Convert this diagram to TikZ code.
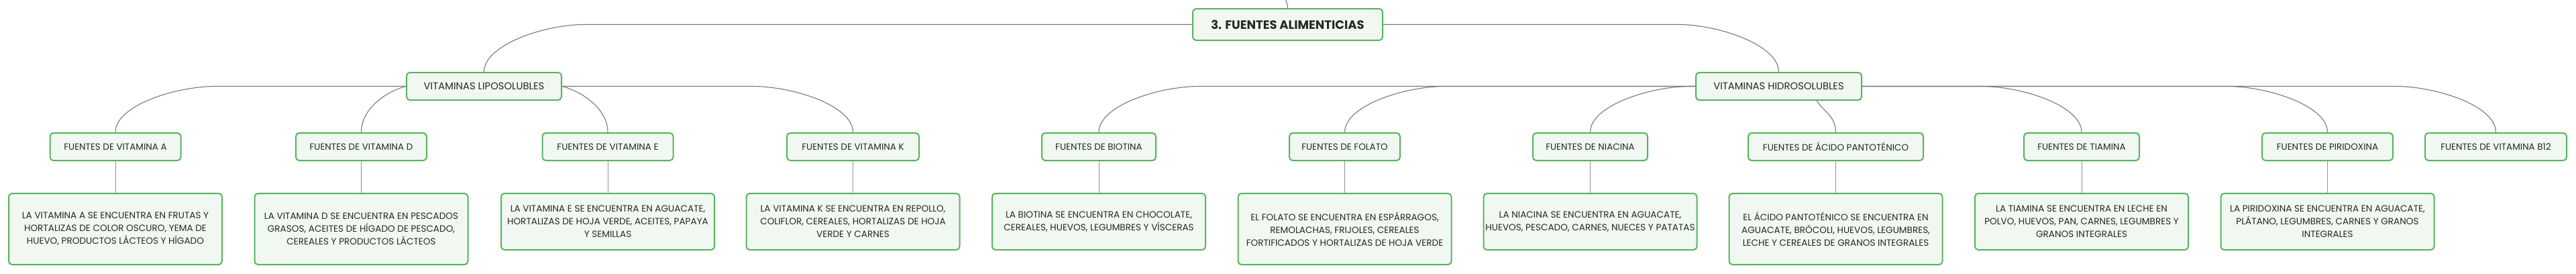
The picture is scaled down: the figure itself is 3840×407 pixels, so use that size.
\documentclass[tikz,border=0pt]{standalone}
\usepackage{fontspec}
\setmainfont{Poppins}
\usetikzlibrary{calc}
\definecolor{ramka}{RGB}{88,180,95}
\definecolor{tlo}{RGB}{241,248,242}
\definecolor{linia}{RGB}{120,120,120}
\definecolor{tekst}{RGB}{40,40,40}

\begin{document}
\begin{tikzpicture}[x=1pt, y=-1pt,
    box/.style={draw=ramka, fill=tlo, line width=2pt, rounded corners=5pt, text=tekst, inner sep=0pt},
    root/.style={box, minimum width=283, minimum height=47, font=\fontsize{18}{20}\selectfont\bfseries},
    group/.style={box, minimum height=41, font=\fontsize{14.8}{16}\selectfont},
    topic/.style={box, minimum height=41, font=\fontsize{13.5}{15}\selectfont},
    info/.style={box, anchor=north, minimum width=318, align=center, font=\fontsize{13.6}{19}\selectfont},
    link/.style={draw=linia, line width=1.1pt},
    stem/.style={draw=linia!80, line width=0.8pt}]
    \useasboundingbox (0,0) rectangle (3840,407);

    % Węzeł główny
    \node[root] (root) at (1919.5,36.5) {3. FUENTES ALIMENTICIAS};
    \coordinate (nadrzedny) at (1880,-30);

    % Grupy witamin
    \node[group, minimum width=231] (lipo) at (721.5,128.5) {VITAMINAS LIPOSOLUBLES};
    \node[group, minimum width=247] (hidro) at (2651.5,128.5) {VITAMINAS HIDROSOLUBLES};

    % Źródła poszczególnych witamin
    \node[topic, minimum width=195] (vita) at (172,218.5) {FUENTES DE VITAMINA A};
    \node[topic, minimum width=195] (vitd) at (538.5,218.5) {FUENTES DE VITAMINA D};
    \node[topic, minimum width=195] (vite) at (906,218.5) {FUENTES DE VITAMINA E};
    \node[topic, minimum width=197] (vitk) at (1271.5,218.5) {FUENTES DE VITAMINA K};
    \node[topic, minimum width=170] (biot) at (1638,218.5) {FUENTES DE BIOTINA};
    \node[topic, minimum width=165] (fola) at (2004.5,218.5) {FUENTES DE FOLATO};
    \node[topic, minimum width=171] (niac) at (2370.5,218.5) {FUENTES DE NIACINA};
    \node[topic, minimum width=261] (pant) at (2736.5,218.5) {FUENTES DE ÁCIDO PANTOTÉNICO};
    \node[topic, minimum width=172] (tiam) at (3103,218.5) {FUENTES DE TIAMINA};
    \node[topic, minimum width=195] (piri) at (3469.5,218.5) {FUENTES DE PIRIDOXINA};
    \node[topic, minimum width=211] (b12) at (3720.5,218.5) {FUENTES DE VITAMINA B12};

    % Opisy
    \node[info, minimum height=106] (vitainfo) at (172,287) {LA VITAMINA A SE ENCUENTRA EN FRUTAS Y\\HORTALIZAS DE COLOR OSCURO, YEMA DE\\HUEVO, PRODUCTOS LÁCTEOS Y HÍGADO};
    \node[info, minimum height=106] (vitdinfo) at (538.5,287) {LA VITAMINA D SE ENCUENTRA EN PESCADOS\\GRASOS, ACEITES DE HÍGADO DE PESCADO,\\CEREALES Y PRODUCTOS LÁCTEOS};
    \node[info, minimum height=84] (viteinfo) at (906,287) {LA VITAMINA E SE ENCUENTRA EN AGUACATE,\\HORTALIZAS DE HOJA VERDE, ACEITES, PAPAYA\\Y SEMILLAS};
    \node[info, minimum height=84] (vitkinfo) at (1271.5,287) {LA VITAMINA K SE ENCUENTRA EN REPOLLO,\\COLIFLOR, CEREALES, HORTALIZAS DE HOJA\\VERDE Y CARNES};
    \node[info, minimum height=84] (biotinfo) at (1638,287) {LA BIOTINA SE ENCUENTRA EN CHOCOLATE,\\CEREALES, HUEVOS, LEGUMBRES Y VÍSCERAS};
    \node[info, minimum height=106] (folainfo) at (2004.5,287) {EL FOLATO SE ENCUENTRA EN ESPÁRRAGOS,\\REMOLACHAS, FRIJOLES, CEREALES\\FORTIFICADOS Y HORTALIZAS DE HOJA VERDE};
    \node[info, minimum height=84] (niacinfo) at (2370.5,287) {LA NIACINA SE ENCUENTRA EN AGUACATE,\\HUEVOS, PESCADO, CARNES, NUECES Y PATATAS};
    \node[info, minimum height=106] (pantinfo) at (2736.5,287) {EL ÁCIDO PANTOTÉNICO SE ENCUENTRA EN\\AGUACATE, BRÓCOLI, HUEVOS, LEGUMBRES,\\LECHE Y CEREALES DE GRANOS INTEGRALES};
    \node[info, minimum height=84] (tiaminfo) at (3103,287) {LA TIAMINA SE ENCUENTRA EN LECHE EN\\POLVO, HUEVOS, PAN, CARNES, LEGUMBRES Y\\GRANOS INTEGRALES};
    \node[info, minimum height=84] (piriinfo) at (3469.5,287) {LA PIRIDOXINA SE ENCUENTRA EN AGUACATE,\\PLÁTANO, LEGUMBRES, CARNES Y GRANOS\\INTEGRALES};

    % Połączenia od węzła głównego
    \draw[link] (nadrzedny) .. controls +(25,0) and +(0,-12) .. (root.north);
    \draw[link] (root.west) -- ($(lipo.north |- root.west)+(150,0)$) .. controls +(-60,0) and +(0,-40) .. (lipo.north);
    \draw[link] (root.east) -- ($(hidro.north |- root.east)+(-150,0)$) .. controls +(60,0) and +(0,-40) .. (hidro.north);

    % Połączenia od witamin rozpuszczalnych w tłuszczach
    \draw[link] (lipo.west) -- ($(vita.north |- lipo.west)+(150,0)$) .. controls +(-60,0) and +(0,-40) .. (vita.north);
    \draw[link] (lipo.west) .. controls +(-30,8) and +(0,-35) .. (vitd.north);
    \draw[link] (lipo.east) .. controls +(30,8) and +(0,-35) .. (vite.north);
    \draw[link] (lipo.east) -- ($(vitk.north |- lipo.east)+(-150,0)$) .. controls +(60,0) and +(0,-40) .. (vitk.north);

    % Połączenia od witamin rozpuszczalnych w wodzie
    \draw[link] (hidro.west) -- ($(biot.north |- hidro.west)+(150,0)$) .. controls +(-60,0) and +(0,-40) .. (biot.north);
    \draw[link] (hidro.west) -- ($(fola.north |- hidro.west)+(150,0)$) .. controls +(-60,0) and +(0,-40) .. (fola.north);
    \draw[link] (hidro.west) -- ($(niac.north |- hidro.west)+(150,0)$) .. controls +(-60,0) and +(0,-40) .. (niac.north);
    \draw[link] ($(hidro.south)+(57,0)$) .. controls +(8,15) and +(0,-25) .. (pant.north);
    \draw[link] (hidro.east) -- ($(tiam.north |- hidro.east)+(-150,0)$) .. controls +(60,0) and +(0,-40) .. (tiam.north);
    \draw[link] (hidro.east) -- ($(piri.north |- hidro.east)+(-150,0)$) .. controls +(60,0) and +(0,-40) .. (piri.north);
    \draw[link] (hidro.east) -- ($(b12.north |- hidro.east)+(-150,0)$) .. controls +(60,0) and +(0,-40) .. (b12.north);

    % Pionowe linie do opisów
    \draw[stem] (vita.south) -- (vitainfo.north);
    \draw[stem] (vitd.south) -- (vitdinfo.north);
    \draw[stem] (vite.south) -- (viteinfo.north);
    \draw[stem] (vitk.south) -- (vitkinfo.north);
    \draw[stem] (biot.south) -- (biotinfo.north);
    \draw[stem] (fola.south) -- (folainfo.north);
    \draw[stem] (niac.south) -- (niacinfo.north);
    \draw[stem] (pant.south) -- (pantinfo.north);
    \draw[stem] (tiam.south) -- (tiaminfo.north);
    \draw[stem] (piri.south) -- (piriinfo.north);
\end{tikzpicture}
\end{document}
